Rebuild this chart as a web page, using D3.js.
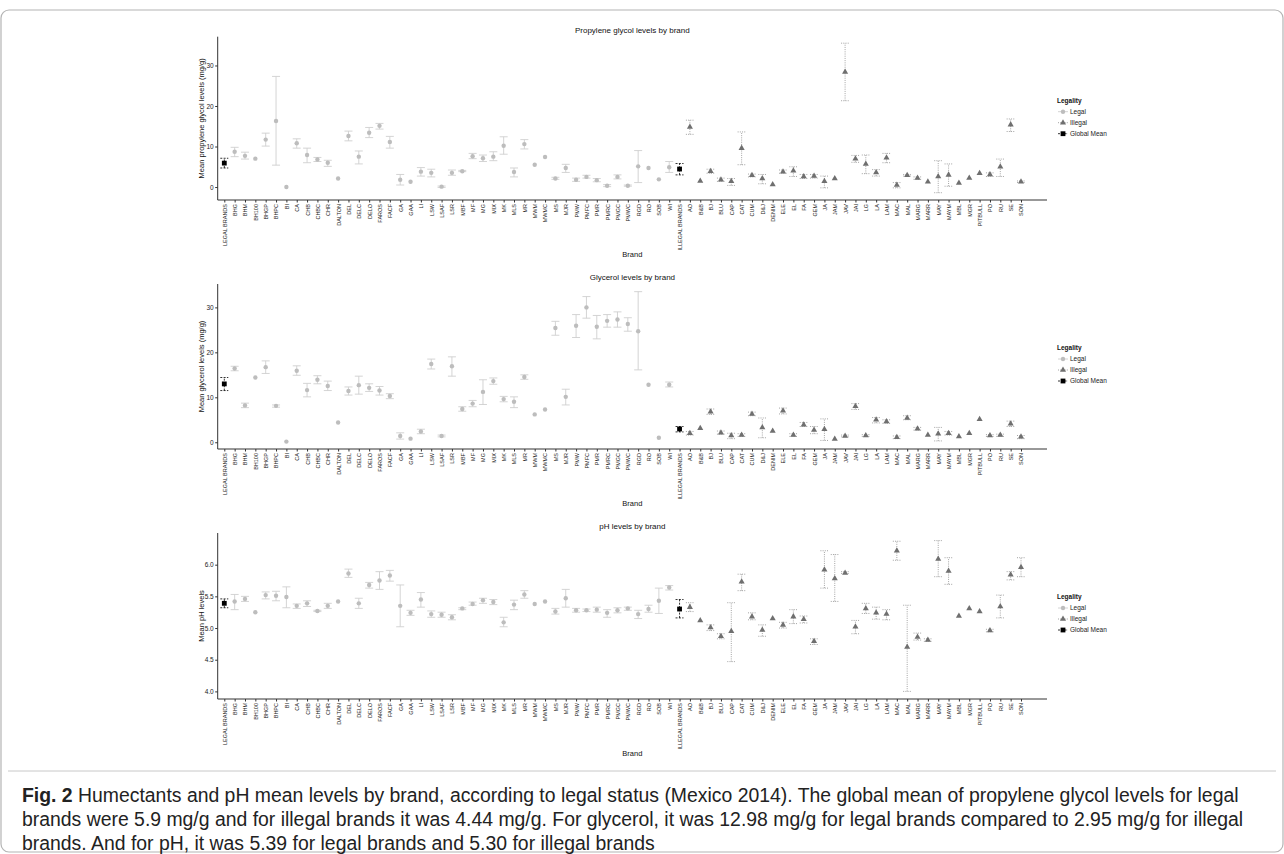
<!DOCTYPE html>
<html>
<head>
<meta charset="utf-8">
<script src="https://cdn.jsdelivr.net/npm/d3@7"></script>
<style>
  body { margin: 0; background: #fff; }
  svg { font-family: "Liberation Sans", Arial, sans-serif; }
</style>
</head>
<body>
<svg width="1284" height="854"></svg>
<script>
const brands = ['LEGAL BRANDS', 'BHG', 'BHM', 'BH100', 'BHGP', 'BHPC', 'BI', 'CA', 'CHB', 'CHBC', 'CHR', 'DALTON',
    'DEL', 'DELC', 'DELO', 'FAROS', 'FACF', 'GA', 'GAA', 'LI', 'LSW', 'LSAF', 'LSR', 'MBF', 'MF', 'MG', 'MIX', 'MK',
    'MLS', 'MR', 'MWM', 'MWMC', 'MS', 'MJR', 'PMW', 'PMFC', 'PMR', 'PMRC', 'PMGC', 'PMWC', 'RGD', 'RO', 'SOB', 'WI',
    'ILLEGAL BRANDS', 'AO', 'B&B', 'BJ', 'BLU', 'CAP', 'CAT', 'CUM', 'D&J', 'DENIM', 'ELE', 'EL', 'FA', 'GEM', 'JA',
    'JAM', 'JAV', 'JAI', 'LG', 'LA', 'LAM', 'MAC', 'MAL', 'MARG', 'MARR', 'MAY', 'MAYM', 'MBL', 'MGR', 'PITBULL',
    'PO', 'RU', 'SE', 'SON'];

// propylene glycol (mg/g)
const pgMean = [5.9, 8.7, 7.7, 7.0, 11.7, 16.3, 0, 10.8, 7.9, 6.8, 6.0, 2.1, 12.6, 7.5, 13.4, 15.1, 11.1, 1.8, 1.3, 3.8,
    3.5, 0.1, 3.5, 3.9, 7.6, 7.1, 7.5, 10.2, 3.7, 10.6, 5.5, 7.4, 2.1, 4.7, 1.8, 2.5, 1.7, 0.3, 2.5, 0.3, 5.1, 4.7, 1.9,
    4.9, 4.44, 14.8, 1.5, 3.9, 1.8, 1.4, 9.6, 2.9, 2.1, 0.6, 3.8, 4.0, 2.6, 2.7, 1.4, 2.1, 28.4, 7.0, 5.7, 3.6, 7.2, 0.5,
    2.9, 2.2, 1.3, 2.6, 3.0, 1.0, 2.2, 3.4, 3.1, 5.0, 15.4, 1.3];
const pgLow = [4.7, 7.5, 6.9, null, 10.1, 5.4, null, 9.6, 6.0, 6.3, 5.1, null, 11.4, 5.7, 12.2, 14.3, 9.6, 0.5, null, 2.7,
    2.5, -0.1, 2.9, 3.8, 7.0, 6.3, 6.5, 8.1, 2.5, 9.4, null, null, 1.9, 3.6, 1.4, 2.2, 1.3, 0.1, 2.0, 0.2, 1.1, null, null,
    3.6, 3.0, 13.0, null, 3.4, 1.4, 0.4, 5.5, 2.5, 0.8, null, 3.4, 2.6, 2.1, 2.2, -0.2, null, 21.3, 6.1, 3.3, 2.7, 6.0, -0.2,
    2.7, 1.9, null, -1.4, 0.2, null, null, null, 2.6, 2.6, 13.7, 1.1];
const pgHigh = [7.1, 9.8, 8.6, null, 13.3, 27.3, null, 11.9, 9.6, 7.3, 6.6, null, 13.8, 8.9, 14.7, 15.7, 12.5, 3.1, null, 4.8,
    4.4, 0.25, 4.2, 4.1, 8.3, 7.9, 8.7, 12.4, 4.7, 11.7, null, null, 2.4, 5.6, 2.2, 2.9, 2.1, 0.6, 3.0, 0.5, 9.0, null, null,
    6.3, 5.8, 16.5, null, 4.4, 2.2, 2.1, 13.6, 3.2, 3.1, null, 4.2, 5.0, 3.1, 3.1, 2.7, null, 35.5, 7.8, 7.9, 4.3, 8.3, 1.1,
    3.1, 2.5, null, 6.5, 5.7, null, null, null, 3.5, 6.9, 16.8, 1.5];

// glycerol (mg/g)
const glyMean = [12.98, 16.4, 8.2, 14.4, 16.7, 8.1, 0.15, 15.9, 11.6, 13.9, 12.5, 4.4, 11.4, 12.7, 12.1, 11.5, 10.3, 1.4,
    0.8, 2.4, 17.4, 1.4, 16.9, 7.4, 8.6, 11.2, 13.6, 9.6, 9.0, 14.5, 6.2, 7.3, 25.4, 10.1, 25.9, 30.0, 25.7, 27.0, 27.3,
    26.3, 24.7, 12.8, 1.0, 12.8, 2.95, 2.0, 3.1, 6.8, 2.1, 1.5, 1.6, 6.3, 3.3, 2.5, 7.0, 1.6, 3.9, 2.7, 2.9, 0.7, 1.4, 8.0,
    1.5, 5.0, 4.6, 1.1, 5.4, 3.0, 1.6, 1.9, 2.0, 1.3, 2.0, 5.1, 1.5, 1.6, 4.1, 1.2];
const glyLow = [11.5, 15.9, 7.7, null, 15.3, 7.8, null, 14.9, 10.1, 13.0, 11.5, null, 10.5, 10.7, 11.3, 10.5, 9.7, 0.7,
    null, 1.9, 16.3, 1.2, 14.7, 6.9, 7.9, 8.4, 12.9, 9.0, 7.7, 14.0, null, null, 23.8, 8.3, 23.3, 27.6, 23.0, 25.6, 25.6,
    24.7, 16.1, null, null, 12.3, 2.3, 1.6, null, 6.2, 1.8, 0.8, 1.3, 5.9, 1.0, null, 6.3, 1.3, 3.5, 1.9, 0.4, null, 1.2,
    7.3, 1.3, 4.3, 4.2, 0.8, 5.0, 2.7, null, 0.3, 1.6, null, null, null, 1.3, 1.3, 3.5, 0.8];
const glyHigh = [14.4, 16.9, 8.7, null, 18.1, 8.3, null, 17.0, 13.1, 14.8, 13.6, null, 12.3, 14.7, 13.0, 12.4, 10.8, 2.1,
    null, 2.9, 18.5, 1.6, 19.0, 7.9, 9.3, 13.9, 14.3, 10.2, 10.1, 15.0, null, null, 26.9, 11.8, 28.4, 32.4, 28.2, 28.4,
    29.0, 27.7, 33.5, null, null, 13.4, 3.5, 2.4, null, 7.4, 2.5, 2.0, 1.9, 6.7, 5.4, null, 7.6, 1.9, 4.4, 3.5, 5.2, null,
    1.6, 8.6, 1.7, 5.5, 5.0, 1.4, 5.9, 3.3, null, 3.3, 2.4, null, null, null, 1.7, 1.8, 4.7, 1.5];

// pH
const phMean = [5.39, 5.42, 5.46, 5.25, 5.52, 5.51, 5.49, 5.35, 5.39, 5.27, 5.35, 5.42, 5.86, 5.39, 5.68, 5.75, 5.83,
    5.35, 5.24, 5.45, 5.22, 5.21, 5.17, 5.31, 5.38, 5.44, 5.41, 5.09, 5.37, 5.53, 5.38, 5.42, 5.26, 5.47, 5.28, 5.28,
    5.29, 5.24, 5.28, 5.31, 5.22, 5.30, 5.43, 5.64, 5.30, 5.33, 5.12, 5.01, 4.87, 4.95, 5.73, 5.18, 4.97, 5.15, 5.05,
    5.18, 5.14, 4.79, 5.92, 5.78, 5.87, 5.02, 5.31, 5.24, 5.22, 6.22, 4.70, 4.86, 4.81, 6.09, 5.90, 5.19, 5.31, 5.26,
    4.96, 5.34, 5.84, 5.96];
const phLow = [5.32, 5.29, 5.42, null, 5.46, 5.43, 5.32, 5.31, 5.34, 5.26, 5.31, null, 5.80, 5.31, 5.63, 5.61, 5.74,
    5.02, 5.20, 5.33, 5.17, 5.17, 5.13, 5.29, 5.36, 5.39, 5.37, 5.02, 5.29, 5.47, null, null, 5.22, 5.33, 5.25, 5.26,
    5.25, 5.17, 5.24, 5.28, 5.15, 5.25, 5.23, 5.60, 5.16, 5.26, null, 4.96, 4.83, 4.47, 5.59, 5.13, 4.87, null, 5.00,
    5.07, 5.08, 4.74, 5.63, 5.42, 5.86, 4.91, 5.23, 5.14, 5.13, 6.07, 4.00, 4.81, 4.79, 5.81, 5.69, null, null, null,
    4.94, 5.16, 5.76, 5.81];
const phHigh = [5.46, 5.53, 5.50, null, 5.57, 5.58, 5.65, 5.38, 5.43, 5.28, 5.39, null, 5.93, 5.47, 5.72, 5.89, 5.91,
    5.68, 5.28, 5.56, 5.27, 5.25, 5.21, 5.32, 5.41, 5.47, 5.45, 5.17, 5.44, 5.59, null, null, 5.31, 5.61, 5.31, 5.30,
    5.33, 5.29, 5.32, 5.33, 5.28, 5.36, 5.63, 5.67, 5.45, 5.40, null, 5.05, 4.91, 5.40, 5.85, 5.24, 5.05, null, 5.09,
    5.29, 5.19, 4.83, 6.22, 6.16, 5.89, 5.12, 5.39, 5.33, 5.29, 6.37, 5.36, 4.92, 4.83, 6.38, 6.11, null, null, null,
    4.98, 5.52, 5.89, 6.11];

const pgTicks = [0, 10, 20, 30];
const glyTicks = [0, 10, 20, 30];
const phTicks = [4.0, 4.5, 5.0, 5.5, 6.0];
const legendLabels = ['Legal', 'Illegal', 'Global Mean'];

const caption = [
    'Humectants and pH mean levels by brand, according to legal status (Mexico 2014). The global mean of propylene glycol levels for legal',
    'brands were 5.9 mg/g and for illegal brands it was 4.44 mg/g. For glycerol, it was 12.98 mg/g for legal brands compared to 2.95 mg/g for illegal',
    'brands. And for pH, it was 5.39 for legal brands and 5.30 for illegal brands'
];

const svg = d3.select('svg');

const plotLeft = 217.7;
const plotRight = 1047;

const legalColor = '#bdbdbd';
const legalBar = '#cfcfcf';
const illegalColor = '#6f6f6f';
const illegalBar = '#9a9a9a';

function groupOf(i) {
    if (i === 0 || i === 44) return 'global';
    return i < 44 ? 'legal' : 'illegal';
}

const x = d3.scalePoint()
    .domain(brands)
    .range([224.3, 1021]);

function drawPoint(g, type, cx, cy) {
    if (type === 'legal') {
        g.append('circle').attr('cx', cx).attr('cy', cy).attr('r', 2.2).attr('fill', legalColor);
    } else if (type === 'illegal') {
        g.append('path')
            .attr('d', d3.symbol().type(d3.symbolTriangle).size(16)())
            .attr('transform', `translate(${cx},${cy})`)
            .attr('fill', illegalColor);
    } else {
        g.append('rect').attr('x', cx - 2.4).attr('y', cy - 2.4).attr('width', 4.8).attr('height', 4.8).attr('fill', '#000');
    }
}

function barStyle(sel, type) {
    if (type === 'legal') {
        sel.attr('stroke', legalBar).attr('stroke-width', 0.9);
    } else if (type === 'illegal') {
        sel.attr('stroke', illegalBar).attr('stroke-width', 0.9).attr('stroke-dasharray', '1,1.2');
    } else {
        sel.attr('stroke', '#000').attr('stroke-width', 0.8).attr('stroke-dasharray', '2,1.3');
    }
}

function drawPanel(opt) {
    const g = svg.append('g');
    const y = d3.scaleLinear().domain(opt.domain).range([opt.bottom, opt.top]);

    // title
    g.append('text')
        .attr('x', (plotLeft + plotRight) / 2)
        .attr('y', opt.top - 4)
        .attr('text-anchor', 'middle')
        .attr('font-size', 8)
        .attr('fill', '#111')
        .text(opt.title);

    // y axis
    const yAxis = d3.axisLeft(y).tickValues(opt.ticks).tickSize(2.5).tickPadding(1.5)
        .tickFormat(opt.fmt);
    const ya = g.append('g').attr('transform', `translate(${plotLeft},0)`).call(yAxis);
    ya.select('.domain').attr('d', `M0,${opt.top}V${opt.bottom}`).attr('stroke', '#333').attr('stroke-width', 1);
    ya.selectAll('.tick line').attr('stroke', '#333');
    ya.selectAll('.tick text').attr('font-size', 6.5).attr('fill', '#222')
        .attr('font-family', '"Liberation Sans", Arial, sans-serif');

    g.append('text')
        .attr('transform', `translate(${plotLeft - 16},${(opt.top + opt.bottom) / 2}) rotate(-90)`)
        .attr('text-anchor', 'middle')
        .attr('dy', '0.35em')
        .attr('font-size', 7.5)
        .attr('fill', '#111')
        .text(opt.ylabel);

    // x axis
    const xAxis = d3.axisBottom(x).tickSize(2.5).tickPadding(1);
    const xa = g.append('g').attr('transform', `translate(0,${opt.bottom})`).call(xAxis);
    xa.select('.domain').attr('d', `M${plotLeft},0H${plotRight}`).attr('stroke', '#333').attr('stroke-width', 1);
    xa.selectAll('.tick line').attr('stroke', '#333');
    xa.selectAll('.tick text')
        .attr('font-size', 5.5)
        .attr('fill', '#222')
        .attr('font-family', '"Liberation Sans", Arial, sans-serif')
        .attr('text-anchor', 'end')
        .attr('dy', '0.35em')
        .attr('transform', 'translate(0,4) rotate(-90)')
        .attr('x', 0).attr('y', 0);

    g.append('text')
        .attr('x', (plotLeft + plotRight) / 2)
        .attr('y', opt.bottom + 57)
        .attr('text-anchor', 'middle')
        .attr('font-size', 7.5)
        .attr('fill', '#111')
        .text('Brand');

    // error bars then points
    const marks = g.append('g');
    brands.forEach((b, i) => {
        const type = groupOf(i);
        const cx = x(b);
        if (opt.low[i] !== null && opt.high[i] !== null) {
            const y1 = y(opt.low[i]);
            const y2 = y(opt.high[i]);
            const eb = marks.append('path')
                .attr('d', `M${cx - 4},${y1}H${cx + 4}M${cx},${y1}V${y2}M${cx - 4},${y2}H${cx + 4}`)
                .attr('fill', 'none');
            barStyle(eb, type);
        }
    });
    brands.forEach((b, i) => {
        drawPoint(marks, groupOf(i), x(b), y(opt.mean[i]));
    });

    // legend
    const lg = g.append('g').attr('transform', `translate(1057,${opt.top + 64})`);
    lg.append('text')
        .attr('x', 0).attr('y', 0)
        .attr('dy', '0.35em')
        .attr('font-size', 6.5)
        .attr('font-weight', 'bold')
        .attr('fill', '#111')
        .text('Legality');
    ['legal', 'illegal', 'global'].forEach((type, k) => {
        const yy = 11 + k * 11;
        const ln = lg.append('line').attr('x1', 1).attr('x2', 11).attr('y1', yy).attr('y2', yy);
        barStyle(ln, type);
        drawPoint(lg, type, 6, yy);
        lg.append('text')
            .attr('x', 13).attr('y', yy)
            .attr('dy', '0.35em')
            .attr('font-size', 6.5)
            .attr('fill', '#222')
            .text(legendLabels[k]);
    });
}

drawPanel({
    title: 'Propylene glycol levels by brand',
    ylabel: 'Mean propylene glycol levels (mg/g)',
    top: 36.7, bottom: 200, domain: [-3.2, 37.1],
    ticks: pgTicks, fmt: d3.format('d'),
    mean: pgMean, low: pgLow, high: pgHigh
});

drawPanel({
    title: 'Glycerol levels by brand',
    ylabel: 'Mean glycerol levels (mg/g)',
    top: 284, bottom: 449, domain: [-1.5, 35.2],
    ticks: glyTicks, fmt: d3.format('d'),
    mean: glyMean, low: glyLow, high: glyHigh
});

drawPanel({
    title: 'pH levels by brand',
    ylabel: 'Mean pH levels',
    top: 533, bottom: 699, domain: [3.88, 6.5],
    ticks: phTicks, fmt: d3.format('.1f'),
    mean: phMean, low: phLow, high: phHigh
});

// caption box
svg.append('line')
    .attr('x1', 8).attr('x2', 1276)
    .attr('y1', 771).attr('y2', 771)
    .attr('stroke', '#c8c8c8').attr('stroke-width', 1);

svg.append('rect')
    .attr('x', 1).attr('y', 10)
    .attr('width', 1282).attr('height', 842)
    .attr('rx', 8)
    .attr('fill', 'none')
    .attr('stroke', '#b4b4b4')
    .attr('stroke-width', 1.2);

const cap = svg.append('text')
    .attr('font-size', 19.4)
    .attr('fill', '#222');
caption.forEach((line, k) => {
    const t = cap.append('tspan').attr('x', 22).attr('y', 802 + k * 24);
    if (k === 0) {
        t.append('tspan').attr('font-weight', 'bold').text('Fig. 2 ');
    }
    t.append('tspan').text(line);
});
</script>
</body>
</html>
